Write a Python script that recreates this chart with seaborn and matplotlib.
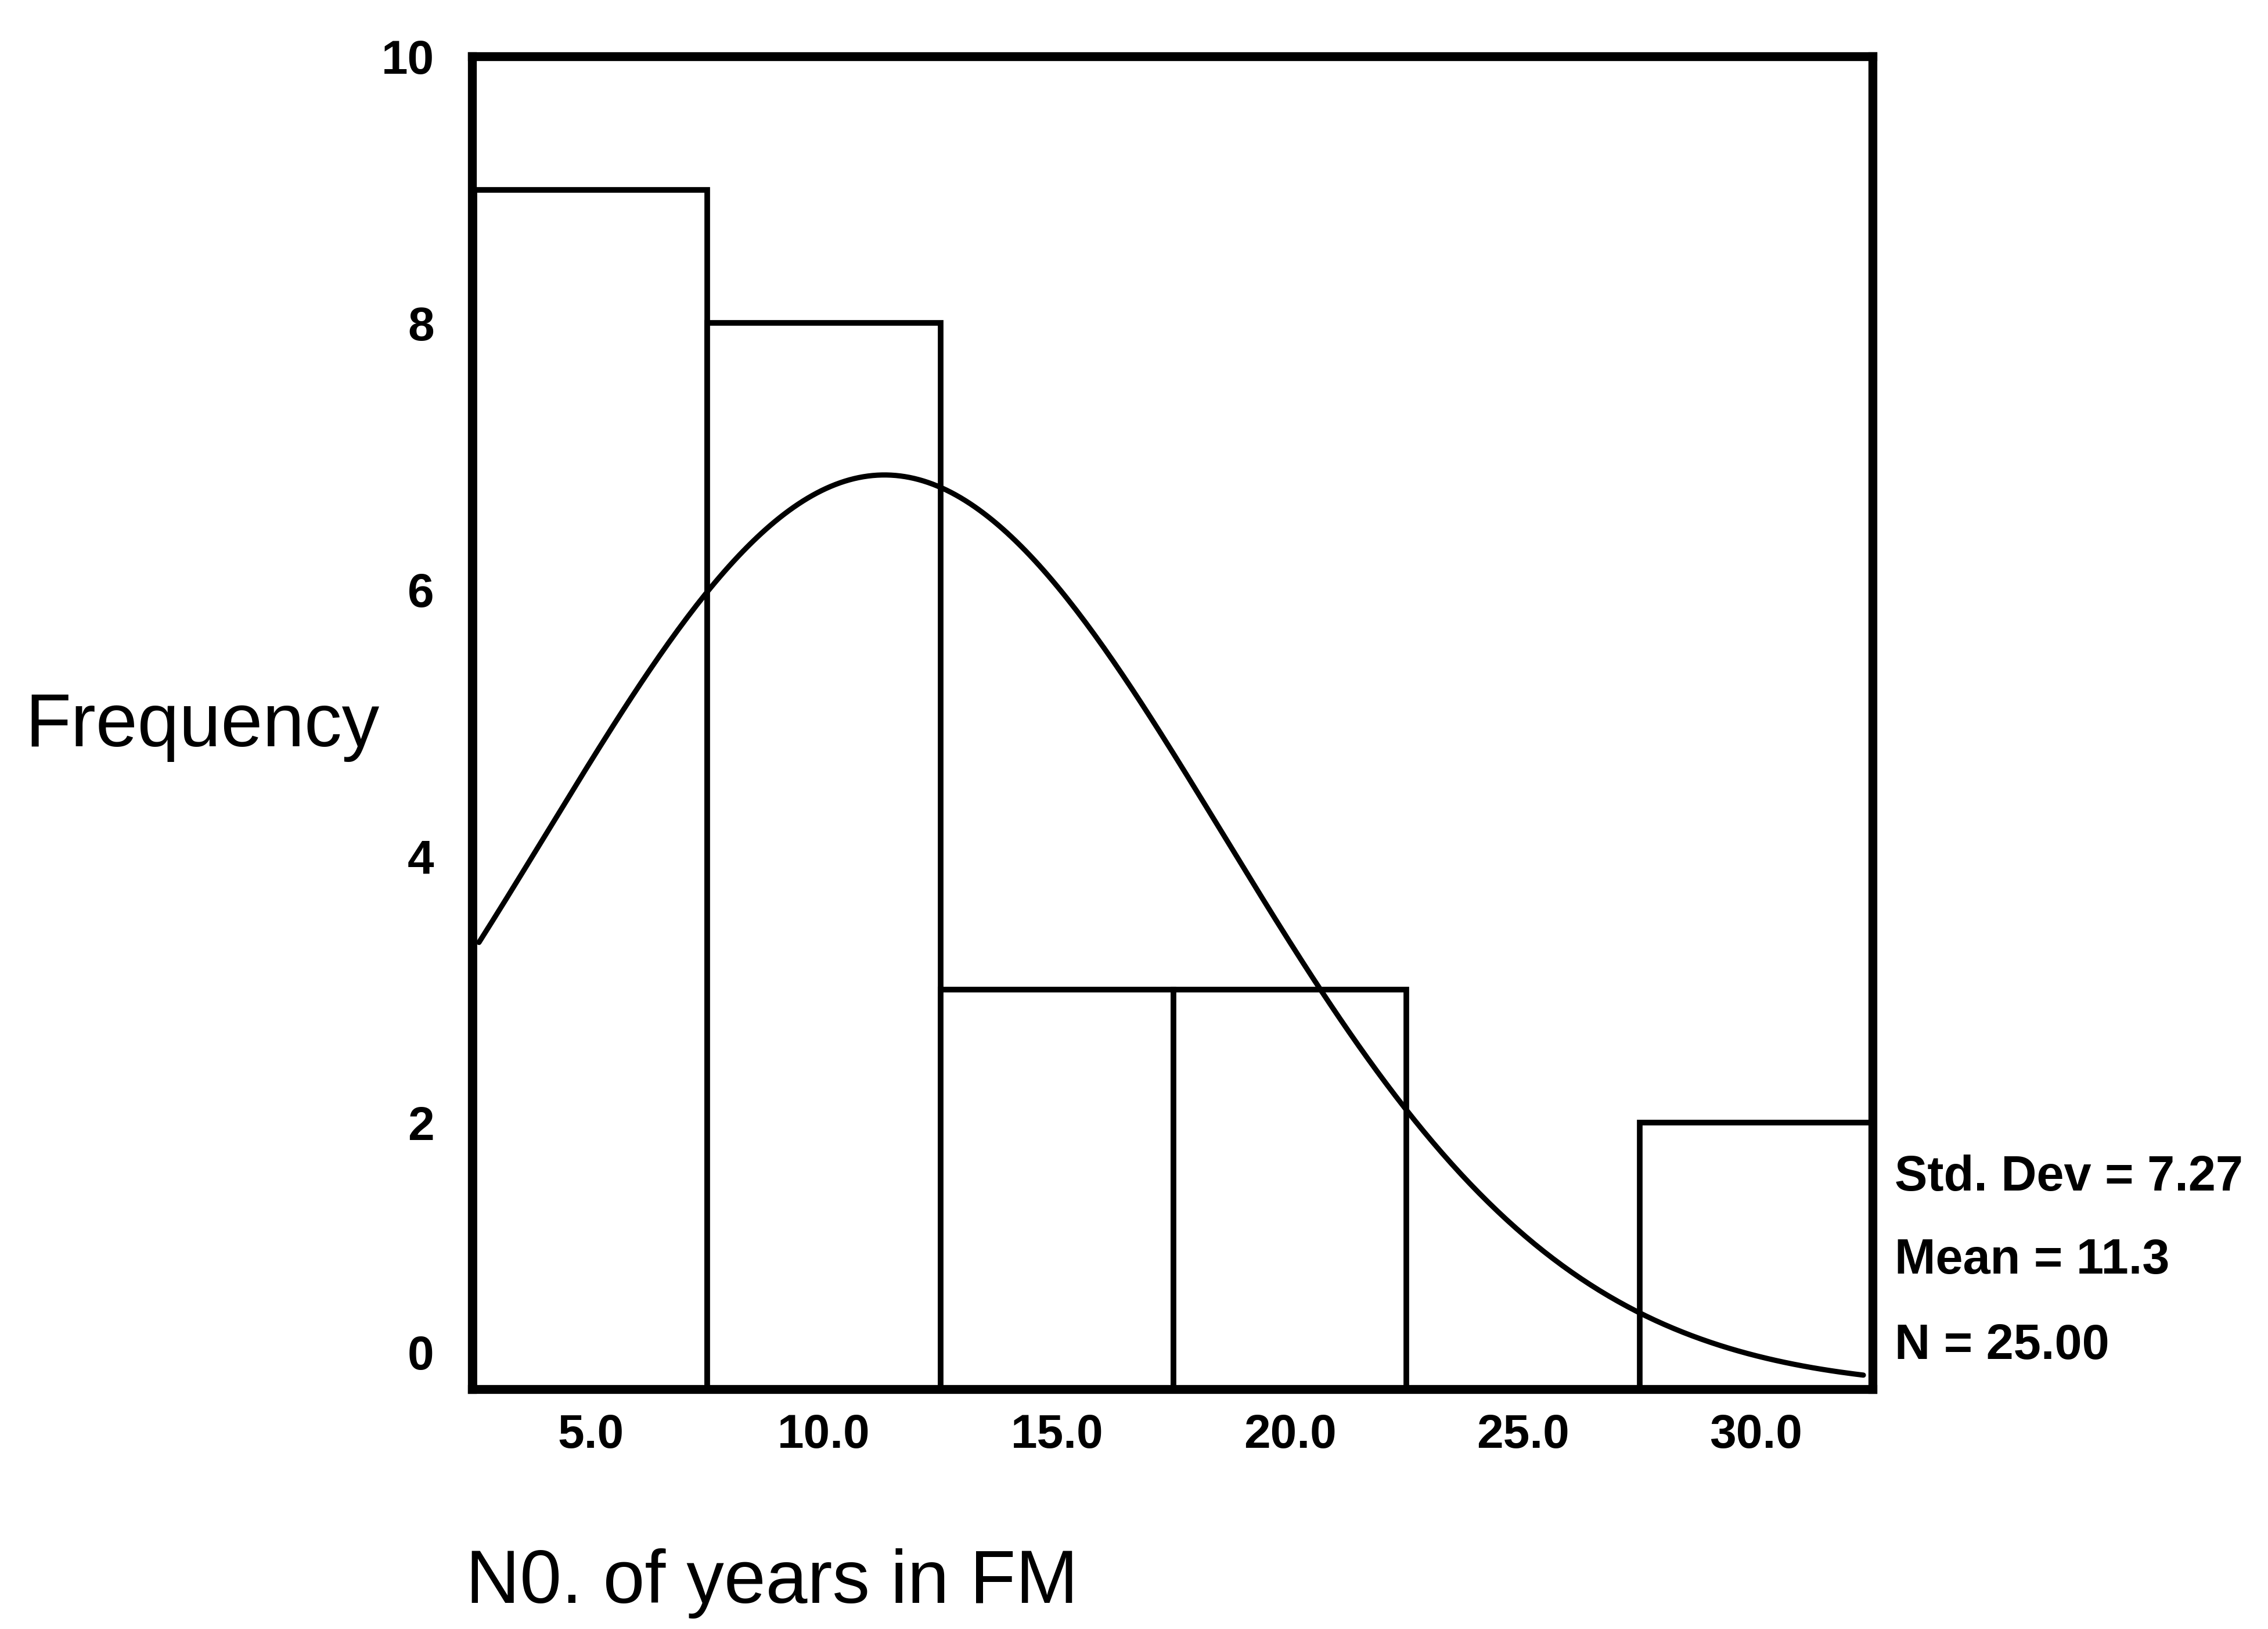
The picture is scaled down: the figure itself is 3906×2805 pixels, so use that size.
import numpy as np
import pandas as pd
import matplotlib.pyplot as plt
import matplotlib.transforms as mtransforms
import seaborn as sns

# histogram of "No. of years in FM" (bins 5 years wide)
bin_edges = [2.5, 7.5, 12.5, 17.5, 22.5, 27.5, 32.5]
bin_centers = [5.0, 10.0, 15.0, 20.0, 25.0, 30.0]
counts = [9, 8, 3, 3, 0, 2]

# summary stats shown next to the chart
std_dev = 7.27
mean = 11.3
n_total = 25

x_ticks = [5.0, 10.0, 15.0, 20.0, 25.0, 30.0]
y_ticks = [0, 2, 4, 6, 8, 10]

sns.set_style("white")
plt.rcParams['font.family'] = ['Liberation Sans', 'DejaVu Sans']
plt.rcParams['text.color'] = 'black'
plt.rcParams['xtick.color'] = 'black'
plt.rcParams['ytick.color'] = 'black'

fig = plt.figure(figsize=(39.06, 28.05), dpi=100)
ax = fig.add_axes([0.2081, 0.1472, 0.6176, 0.8182])

hist_df = pd.DataFrame({'years': bin_centers, 'count': counts})
sns.histplot(data=hist_df, x='years', weights='count', bins=bin_edges,
             color='white', edgecolor='black', linewidth=7, alpha=1, ax=ax)

# normal curve fitted with the reported mean / std dev
width = bin_edges[1] - bin_edges[0]
curve_x = np.linspace(2.6, 32.3, 300)
curve_y = n_total * width * np.exp(-0.5 * ((curve_x - mean) / std_dev) ** 2) / (std_dev * np.sqrt(2 * np.pi))
sns.lineplot(x=curve_x, y=curve_y, color='black', linewidth=6.5, ax=ax)

ax.set_xlim(2.45, 32.5)
ax.set_ylim(0, 10)
ax.set_xticks(x_ticks)
ax.set_xticklabels([f'{t:.1f}' for t in x_ticks], fontsize=59, fontweight='bold')
ax.set_yticks(y_ticks)
ax.set_yticklabels([str(t) for t in y_ticks], fontsize=59, fontweight='bold')
ax.tick_params(axis='both', length=0)
ax.tick_params(axis='x', pad=30)
ax.tick_params(axis='y', pad=47)
ax.set_xlabel('')
ax.set_ylabel('')

for spine in ax.spines.values():
    spine.set_visible(True)
    spine.set_color('black')
    spine.set_linewidth(11)

# the "0" label sits a bit above the baseline in the original
zero_lbl = ax.get_yticklabels()[0]
zero_lbl.set_transform(zero_lbl.get_transform() +
                       mtransforms.ScaledTranslation(0, 0.64, fig.dpi_scale_trans))

fig.text(0.0893, 0.5419, 'Frequency', fontsize=93, color='black', ha='center', va='baseline')
fig.text(0.2053, 0.016, 'N0. of years in FM', fontsize=93, color='black', ha='left', va='baseline')

stats = [f'Std. Dev = {std_dev:.2f}', f'Mean = {mean:.1f}', f'N = {n_total:.2f}']
for txt, y in zip(stats, [0.2692, 0.2182, 0.1658]):
    fig.text(0.8354, y, txt, fontsize=61, fontweight='bold', color='black',
             ha='left', va='baseline')

fig.savefig('out.png', dpi=100, facecolor='white')
